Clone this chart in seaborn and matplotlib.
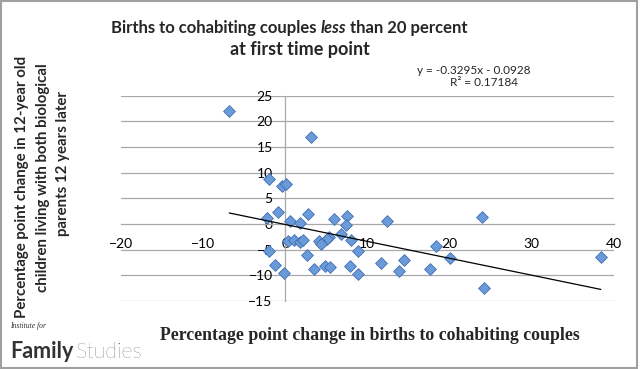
import pandas as pd
import seaborn as sns
import matplotlib.pyplot as plt
from matplotlib.patches import Rectangle

# change in births to cohabiting couples (x) vs change in kids with both parents (y)
x_change = [-6.8, 3.2, -2.0, -0.4, 0.1, -0.85, -2.2, 2.75, 0.6, 1.8,
            6.0, 7.5, 7.4, 12.4, 24.0, 6.8, 8.0, 5.3, 5.1, 4.1,
            4.4, 0.4, 1.1, 1.75, 2.15, -2.0, -1.2, -0.1, 2.6, 3.45,
            4.8, 5.4, 7.9, 8.9, 8.85, 11.6, 13.8, 14.5, 17.6, 18.3,
            20.0, 24.2, 38.4]
y_change = [22.1, 16.9, 8.8, 7.5, 7.7, 2.35, 1.1, 1.95, 0.5, 0.25,
            1.0, 1.65, -0.25, 0.55, 1.4, -1.9, -3.1, -2.5, -3.0, -3.4,
            -3.9, -3.3, -3.1, -3.6, -3.2, -5.2, -8.0, -9.6, -6.0, -8.7,
            -8.1, -8.4, -8.2, -9.7, -5.3, -7.6, -9.1, -7.0, -8.7, -4.3,
            -6.6, -12.4, -6.5]

slope = -0.3295
intercept = -0.0928
r2 = 0.17184

x_ticks = [-20, -10, 0, 10, 20, 30, 40]
y_ticks = [-15, -10, -5, 0, 5, 10, 15, 20, 25]

df = pd.DataFrame({'x': x_change, 'y': y_change})

sns.set_theme(style="white")
plt.rcParams['font.family'] = ['Lato', 'DejaVu Sans']

fig = plt.figure(figsize=(6.4, 3.69), dpi=100)
ax = fig.add_axes([0.1886, 0.1843, 0.7708, 0.5564])

grid_col = '#a8a8a8'
for yt in y_ticks:
    if yt != 0:
        ax.axhline(yt, color=grid_col, lw=0.9, zorder=0)

sns.scatterplot(data=df, x='x', y='y', ax=ax, marker='D', s=36,
                color='#6b9ad9', edgecolor='#3f6fb3', linewidth=0.6, zorder=3)

# linear trendline (from the fitted equation)
xs = [min(x_change), max(x_change)]
ax.plot(xs, [slope * v + intercept for v in xs], color='black', lw=0.9, zorder=4)

ax.set_xlim(-20, 40)
ax.set_ylim(-15, 25)
ax.set_xticks(x_ticks)
ax.set_yticks(y_ticks)
ax.set_xlabel('')
ax.set_ylabel('')

ax.spines['top'].set_visible(False)
ax.spines['right'].set_visible(False)
ax.spines['bottom'].set_position(('data', 0))
ax.spines['left'].set_position(('data', 0))
for s in ['bottom', 'left']:
    ax.spines[s].set_color(grid_col)
    ax.spines[s].set_linewidth(0.9)
ax.tick_params(axis='x', length=3, width=0.9, color=grid_col, direction='out',
               pad=7, labelsize=10, labelcolor='black')
ax.tick_params(axis='y', length=0, pad=9, labelsize=10, labelcolor='black')

# title, first line built from pieces so "less" can be italic
renderer = fig.canvas.get_renderer()
pieces = [('Births to cohabiting couples ', 'normal'), ('less', 'italic'),
          (' than 20 percent', 'normal')]
arts = []
for txt, st in pieces:
    t = fig.text(0, 1 - 28 / 369, txt, ha='left', va='center', fontsize=12,
                 fontweight='bold', style=st)
    arts.append(t)
widths = [a.get_window_extent(renderer).width for a in arts]
xpos = 289 - sum(widths) / 2
for a, w in zip(arts, widths):
    a.set_x(xpos / 640)
    xpos += w
fig.text(300 / 640, 1 - 50 / 369, 'at first time point',
         ha='center', va='center', fontsize=13, fontweight='bold')

fig.text(474 / 640, 1 - 71 / 369, f'y = {slope}x - {abs(intercept)}',
         ha='center', va='center', fontsize=8.5)
fig.text(484 / 640, 1 - 82 / 369, f'R² = {r2}',
         ha='center', va='center', fontsize=8.5)

# y label, three lines
ylines = ['Percentage point change in 12-year old',
          'children living with both biological',
          'parents 12 years later']
ypos = [(22, 187), (43, 178), (63, 163)]
for txt, (px, py) in zip(ylines, ypos):
    fig.text(px / 640, 1 - py / 369, txt, rotation=90, ha='center', va='center',
             fontsize=10.8, fontweight='bold')

fig.text(370 / 640, 1 - 336 / 369,
         'Percentage point change in births to cohabiting couples',
         ha='center', va='center', fontsize=12.8, fontweight='bold',
         family=['Liberation Serif', 'DejaVu Serif'])

# logo
fig.text(10 / 640, 1 - 326 / 369, 'Institute for', ha='left', va='center',
         fontsize=5.5, style='italic', color='#333333',
         family=['Liberation Serif', 'DejaVu Serif'])
fig.text(10 / 640, 1 - 352 / 369, 'Family', ha='left', va='center',
         fontsize=15.5, fontweight='bold', color='#333333')
fig.text(76 / 640, 1 - 352 / 369, 'Studies', ha='left', va='center',
         fontsize=15.5, fontweight='light', color='#333333')

fig.patches.append(Rectangle((0.002, 0.004), 0.994, 0.992, transform=fig.transFigure,
                             fill=False, edgecolor='#a0a0a0', lw=1.5))

fig.savefig('out.png', dpi=100)
